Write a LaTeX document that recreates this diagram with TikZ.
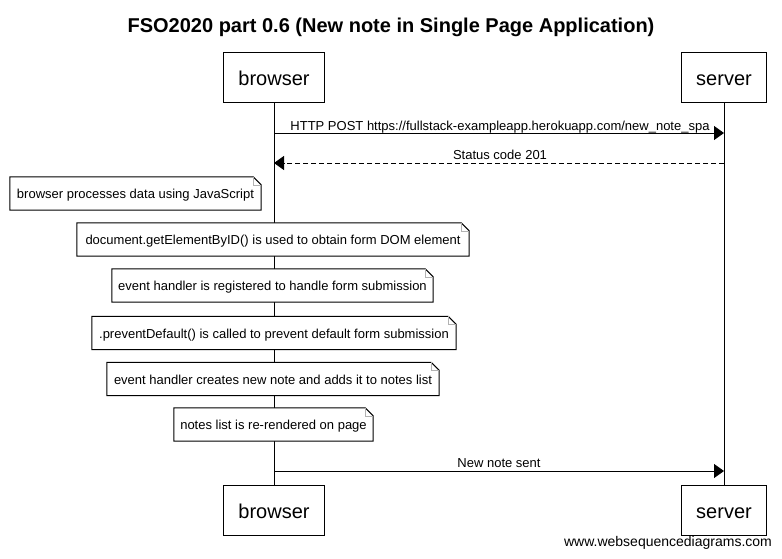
\documentclass[tikz,border=0pt]{standalone}
\usepackage{fontspec}
\setmainfont{Liberation Sans}
\usetikzlibrary{arrows.meta,calc,backgrounds}
\begin{document}
\begin{tikzpicture}[x=1pt,y=-1pt,
  participant/.style={draw, line width=1pt, fill=white, minimum height=50pt, inner sep=0pt, text height=18pt, text depth=2pt, font=\fontsize{20}{24}\selectfont},
  notebox/.style={minimum height=33pt, inner sep=0pt, text height=10pt, text depth=0pt, font=\fontsize{13}{16}\selectfont},
  msglabel/.style={font=\fontsize{13}{16}\selectfont, anchor=base, inner sep=0pt},
  msg/.style={line width=1pt, -{Triangle[length=10pt,width=14pt]}},
  reply/.style={msg, dash pattern=on 5pt off 3pt},
  lifeline/.style={line width=1pt},
  notefold/.style={line width=1pt, fill=white}
]
\useasboundingbox (0,0) rectangle (782,558);

\node[font=\fontsize{20}{24}\selectfont\bfseries, anchor=base, inner sep=0pt] (title) at (391,32) {FSO2020 part 0.6 (New note in Single Page Application)};

\node[participant, minimum width=101pt] (bt) at (274,77) {browser};
\node[participant, minimum width=85pt] (st) at (724,77) {server};
\node[participant, minimum width=101pt] (bb) at (274,510) {browser};
\node[participant, minimum width=85pt] (sb) at (724,510) {server};

\node[notebox, minimum width=251pt] (n1) at (135.5,193.5) {browser processes data using JavaScript};
\node[notebox, minimum width=392pt] (n2) at (273,239.5) {document.getElementByID() is used to obtain form DOM element};
\node[notebox, minimum width=321pt] (n3) at (272.5,285.5) {event handler is registered to handle form submission};
\node[notebox, minimum width=364pt] (n4) at (274,333) {.preventDefault() is called to prevent default form submission};
\node[notebox, minimum width=332pt] (n5) at (273,379) {event handler creates new note and adds it to notes list};
\node[notebox, minimum width=199pt] (n6) at (273.5,424.5) {notes list is re-rendered on page};

\coordinate (b1) at (274,133);
\coordinate (s1) at (724,133);
\coordinate (b2) at (274,163);
\coordinate (s2) at (724,163);
\coordinate (b3) at (274,471);
\coordinate (s3) at (724,471);

\draw[msg] (b1) -- (s1);
\node[msglabel] (l1) at (500,130) {HTTP POST https://fullstack-exampleapp.herokuapp.com/new\_note\_spa};
\draw[reply] (s2) -- (b2);
\node[msglabel] (l2) at (500,159.5) {Status code 201};
\draw[msg] (b3) -- (s3);
\node[msglabel] (l3) at (499,467.5) {New note sent};

\node[font=\fontsize{14}{17}\selectfont, inner sep=0pt] (footer) at (668,543) {www.websequencediagrams.com};

\begin{scope}[on background layer]
  \fill[white] (0,0) rectangle (782,558);
  \draw[lifeline] (bt.south) -- (bb.north);
  \draw[lifeline] (st.south) -- (sb.north);
  \foreach \n in {n1,n2,n3,n4,n5,n6} {
    \draw[notefold] (\n.north west) -- ($(\n.north east)+(-8,0)$) -- ($(\n.north east)+(0,8)$) -- (\n.south east) -- (\n.south west) -- cycle;
    \draw[gray!60, line width=0.6pt] ($(\n.north east)+(-8,0)$) -- ($(\n.north east)+(-8,8)$) -- ($(\n.north east)+(0,8)$);
  }
\end{scope}
\end{tikzpicture}
\end{document}
